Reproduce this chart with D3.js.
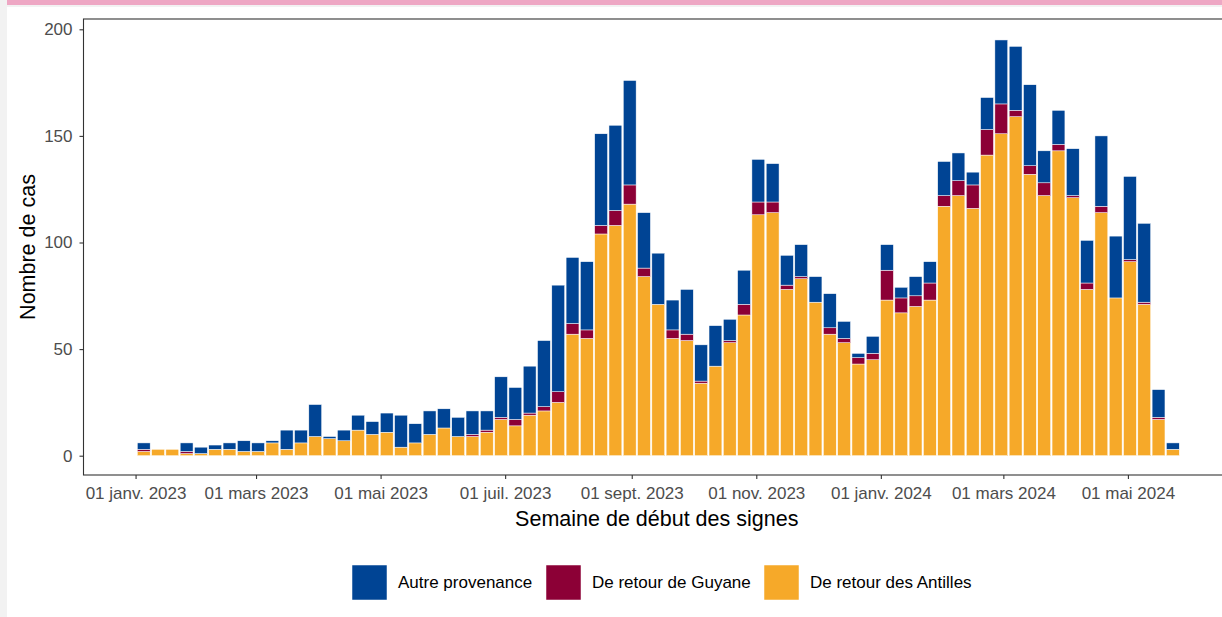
<!DOCTYPE html>
<html>
<head>
<meta charset="utf-8">
<script src="https://cdn.jsdelivr.net/npm/d3@7"></script>
<style>
  body { margin: 0; background: #f2f2f2; }
  svg { display: block; font-family: "Liberation Sans", Arial, sans-serif; }
</style>
</head>
<body>
<div id="chart"></div>
<script>
// weekly counts, first week starting Monday 2 Jan 2023
const firstWeek = "2023-01-02"
const nbWeeks = 73

const antilles = [2, 3, 3, 1, 1, 3, 3, 2, 2, 6, 3, 6, 9, 8, 7, 12, 10, 11, 4, 6,
  10, 13, 9, 9, 11, 17, 14, 19, 21, 25, 57, 55, 104, 108, 118, 84, 71, 55, 54, 34,
  42, 53, 66, 113, 114, 78, 83, 72, 57, 53, 43, 45, 73, 67, 70, 73, 117, 122, 116, 141,
  151, 159, 132, 122, 143, 121, 78, 114, 74, 91, 71, 17, 3]
const guyane = [1, 0, 0, 1, 0, 0, 0, 0, 0, 0, 0, 0, 0, 0, 0, 0, 0, 0, 0, 0,
  0, 0, 0, 1, 1, 1, 3, 1, 2, 5, 5, 4, 4, 7, 9, 4, 0, 4, 3, 1,
  0, 1, 5, 6, 5, 2, 1, 0, 3, 2, 3, 3, 14, 7, 5, 8, 5, 7, 11, 12,
  14, 3, 4, 6, 3, 1, 3, 3, 0, 1, 1, 1, 0]
const autre = [3, 0, 0, 4, 3, 2, 3, 5, 4, 1, 9, 6, 15, 1, 5, 7, 6, 9, 15, 9,
  11, 9, 9, 11, 9, 19, 15, 22, 31, 50, 31, 32, 43, 40, 49, 26, 24, 14, 21, 17,
  19, 10, 16, 20, 18, 14, 15, 12, 16, 8, 2, 8, 12, 5, 9, 10, 16, 13, 6, 15,
  30, 30, 38, 15, 16, 22, 20, 33, 29, 39, 37, 13, 3]

const seriesKeys = ["antilles", "guyane", "autre"]
const seriesColors = { antilles: "#f6a929", guyane: "#8c0036", autre: "#004494" }
const legendItems = [
  { key: "autre", label: "Autre provenance" },
  { key: "guyane", label: "De retour de Guyane" },
  { key: "antilles", label: "De retour des Antilles" }
]
const yTicks = [0, 50, 100, 150, 200]

const W = 1222, H = 617
const panel = { left: 83.5, right: 1230, top: 19, bottom: 475 }

const start = new Date(firstWeek + "T00:00:00Z")
const weeks = d3.utcMonday.range(start, d3.utcWeek.offset(start, nbWeeks))
const data = weeks.map((w, i) => ({ week: w, antilles: antilles[i], guyane: guyane[i], autre: autre[i] }))

const fr = d3.timeFormatLocale({
  dateTime: "%A %e %B %Y à %X", date: "%d/%m/%Y", time: "%H:%M:%S", periods: ["AM", "PM"],
  days: ["dimanche", "lundi", "mardi", "mercredi", "jeudi", "vendredi", "samedi"],
  shortDays: ["dim.", "lun.", "mar.", "mer.", "jeu.", "ven.", "sam."],
  months: ["janvier", "février", "mars", "avril", "mai", "juin", "juillet", "août", "septembre", "octobre", "novembre", "décembre"],
  shortMonths: ["janv.", "févr.", "mars", "avr.", "mai", "juin", "juil.", "août", "sept.", "oct.", "nov.", "déc."]
})

const x = d3.scaleUtc()
  .domain([new Date("2022-12-06T12:00:00Z"), new Date("2024-06-20T00:00:00Z")])
  .range([panel.left, panel.right])
const y = d3.scaleLinear().domain([0, 200]).range([455.7, 29.3])

const dayPx = x(d3.utcDay.offset(start, 1)) - x(start)
const barW = 0.9 * 7 * dayPx

const svg = d3.select("#chart").append("svg").attr("width", W).attr("height", H)

// page background: grey strip, white card, pink top band
svg.append("rect").attr("width", W).attr("height", H).attr("fill", "#f2f2f2")
svg.append("rect").attr("x", 7).attr("y", 7).attr("width", W - 7).attr("height", H - 7).attr("fill", "white")
svg.append("rect").attr("x", 7).attr("y", 0).attr("width", W - 7).attr("height", 5).attr("fill", "#eea7c4")

// stacked bars
const stacked = d3.stack().keys(seriesKeys)(data)
svg.append("g")
  .selectAll("g")
  .data(stacked)
  .join("g")
  .attr("fill", d => seriesColors[d.key])
  .selectAll("rect")
  .data(d => d.filter(s => s[1] > s[0]))
  .join("rect")
  .attr("x", d => x(d3.utcDay.offset(d.data.week, 3)) - barW / 2)
  .attr("width", barW)
  .attr("y", d => y(d[1]))
  .attr("height", d => y(d[0]) - y(d[1]))
  .attr("stroke", "white")
  .attr("stroke-width", 0.5)

// panel border
svg.append("rect")
  .attr("x", panel.left).attr("y", panel.top)
  .attr("width", panel.right - panel.left).attr("height", panel.bottom - panel.top)
  .attr("fill", "none").attr("stroke", "#333").attr("stroke-width", 1.1)

// axes
const gx = svg.append("g")
  .attr("transform", "translate(0," + panel.bottom + ")")
  .call(d3.axisBottom(x)
    .tickValues(d3.utcMonth.every(2).range(new Date("2023-01-01T00:00:00Z"), new Date("2024-06-01T00:00:00Z")))
    .tickFormat(fr.utcFormat("%d %b %Y"))
    .tickSize(4).tickPadding(8))
const gy = svg.append("g")
  .attr("transform", "translate(" + panel.left + ",0)")
  .call(d3.axisLeft(y).tickValues(yTicks).tickSize(4).tickPadding(7))

for (const g of [gx, gy]) {
  g.select(".domain").remove()
  g.selectAll(".tick line").attr("stroke", "#333").attr("stroke-width", 1.1)
  g.selectAll(".tick text").attr("fill", "#4d4d4d").style("font-size", "17px")
    .style("font-family", "'Liberation Sans', Arial, sans-serif")
}

// axis titles
svg.append("text")
  .attr("x", (panel.left + panel.right) / 2).attr("y", 526)
  .attr("text-anchor", "middle").style("font-size", "21.5px")
  .text("Semaine de début des signes")
svg.append("text")
  .attr("transform", "translate(35," + (panel.top + panel.bottom) / 2 + ") rotate(-90)")
  .attr("text-anchor", "middle").style("font-size", "21.5px")
  .text("Nombre de cas")

// legend
const legendX = [352, 546, 764]
const legend = svg.append("g")
  .selectAll("g")
  .data(legendItems)
  .join("g")
  .attr("transform", (d, i) => "translate(" + legendX[i] + ",565)")
legend.append("rect")
  .attr("width", 35).attr("height", 35)
  .attr("fill", d => seriesColors[d.key])
  .attr("stroke", "white").attr("stroke-width", 0.5)
legend.append("text")
  .attr("x", 46).attr("y", 23)
  .style("font-size", "17px")
  .text(d => d.label)
</script>
</body>
</html>
